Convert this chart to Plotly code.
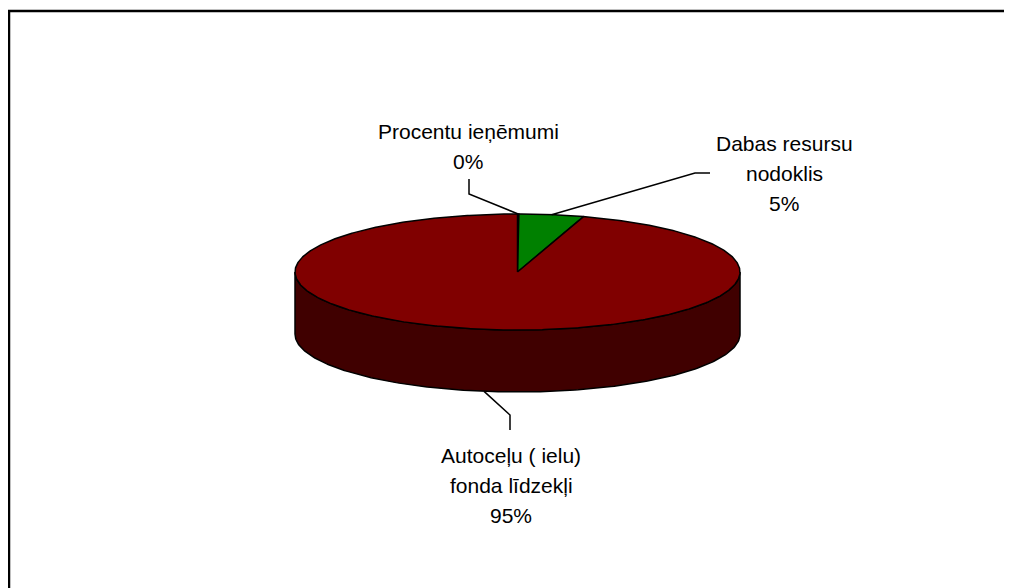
import numpy as np
import plotly.graph_objects as go

# ---- data ----
categories = ["Procentu ieņēmumi", "Dabas resursu nodoklis", "Autoceļu ( ielu) fonda līdzekļi"]
label_lines = [["Procentu ieņēmumi"], ["Dabas resursu", "nodoklis"], ["Autoceļu ( ielu)", "fonda līdzekļi"]]
values = [0.1, 4.7, 95.2]
top_colors = ["#800000", "#008000", "#800000"]
side_colors = ["#400000", "#004000", "#400000"]

# ---- geometry (page pixel space; page body has an 8px margin) ----
OFF = 8
W, H = 1012, 588
cx, cy, rx, ry, depth = 517.5, 272.0, 222.5, 58.0, 62.0
label_pos = [(468, 131), (784, 143), (511, 455)]
line_gap = 30
leaders = [
    [(469, 194), (469, 179)],
    [(695, 173), (710, 173)],
    [(510, 415), (510, 430)],
]


def pt(theta_deg, dz=0.0):
    t = np.radians(theta_deg)
    return cx + rx * np.sin(t), cy - ry * np.cos(t) + dz


total = sum(values)
fracs = [v / total for v in values]
starts = np.concatenate([[0], np.cumsum(fracs)[:-1]]) * 360
ends = np.cumsum(fracs) * 360

fig = go.Figure()

# side walls (visible front part: 90..270 deg)
for i, (a0, a1) in enumerate(zip(starts, ends)):
    lo, hi = max(a0, 90), min(a1, 270)
    if hi <= lo:
        continue
    th = np.linspace(lo, hi, 200)
    xt, yt = pt(th)
    xb, yb = pt(th[::-1], depth)
    xs = np.concatenate([xt, xb, [xt[0]]])
    ys = np.concatenate([yt, yb, [yt[0]]])
    fig.add_trace(go.Scatter(x=xs, y=ys, mode="lines", fill="toself",
                             fillcolor=side_colors[i], line=dict(color="black", width=1.5),
                             hoverinfo="skip", showlegend=False))

# top faces
for i, (a0, a1) in enumerate(zip(starts, ends)):
    th = np.linspace(a0, a1, max(4, int((a1 - a0) * 2)))
    xt, yt = pt(th)
    xs = np.concatenate([[cx], xt, [cx]])
    ys = np.concatenate([[cy], yt, [cy]])
    fig.add_trace(go.Scatter(x=xs, y=ys, mode="lines", fill="toself",
                             fillcolor=top_colors[i], line=dict(color="black", width=1.5),
                             hoverinfo="skip", showlegend=False, name=categories[i]))

# leader lines + labels
pcts = [f"{round(f * 100):.0f}%" for f in fracs]
for i, (a0, a1) in enumerate(zip(starts, ends)):
    mid = (a0 + a1) / 2
    dz = depth if 90 < mid < 270 else 0.0
    ax_, ay_ = pt(mid, dz)
    px = [ax_] + [p[0] for p in leaders[i]]
    py = [ay_] + [p[1] for p in leaders[i]]
    fig.add_trace(go.Scatter(x=px, y=py, mode="lines", line=dict(color="black", width=1.5),
                             hoverinfo="skip", showlegend=False))
    lines = label_lines[i] + [pcts[i]]
    lx, ly = label_pos[i]
    for k, t in enumerate(lines):
        fig.add_annotation(x=lx, y=ly + k * line_gap, text=t, showarrow=False,
                           xanchor="center", yanchor="middle",
                           font=dict(family="Arial, Liberation Sans, sans-serif", size=21, color="black"))

FW, FH = W - OFF, H - OFF
fig.add_shape(type="line", xref="paper", yref="paper", x0=0, x1=1, y0=1 - 3 / FH, y1=1 - 3 / FH,
              line=dict(color="black", width=2.5))
fig.add_shape(type="line", xref="paper", yref="paper", x0=1 / FW, x1=1 / FW, y0=0, y1=1 - 3 / FH,
              line=dict(color="black", width=2.5))

fig.update_layout(
    width=FW, height=FH, margin=dict(l=0, r=0, t=0, b=0),
    paper_bgcolor="white", plot_bgcolor="white",
    xaxis=dict(range=[OFF, W], visible=False, fixedrange=True),
    yaxis=dict(range=[H, OFF], visible=False, fixedrange=True),
)

fig.write_html("out.html")
